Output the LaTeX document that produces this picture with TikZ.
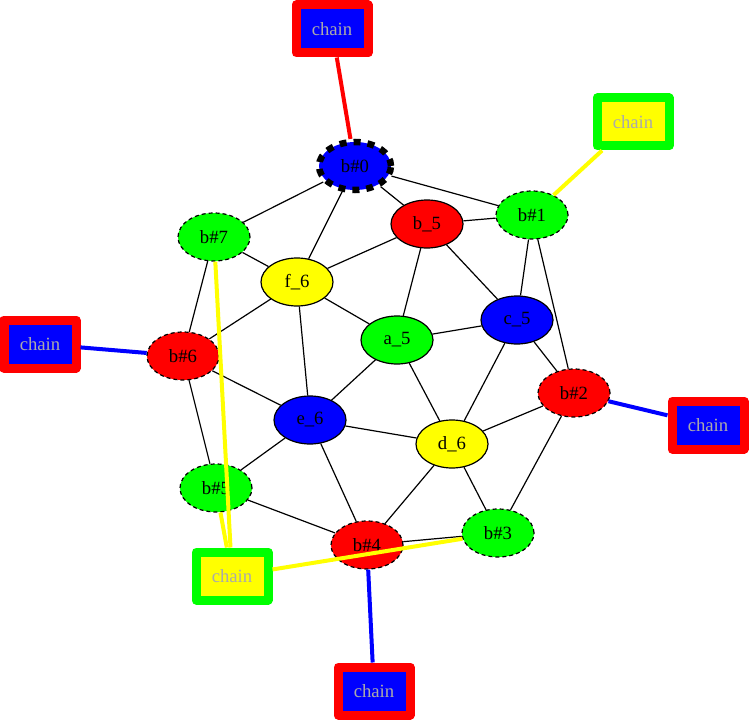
\documentclass[tikz,border=0pt]{standalone}
\usepackage{fontspec}
\setmainfont{Liberation Serif}
\usetikzlibrary{shapes.geometric}
\definecolor{chaintext}{RGB}{170,170,170}
\definecolor{vgreen}{RGB}{0,255,0}
\definecolor{vyellow}{RGB}{255,255,0}
\begin{document}
\begin{tikzpicture}[x=1pt,y=-1pt,
    every node/.style={font=\fontsize{18.7}{22}\selectfont},
    vtx/.style={ellipse,draw,line width=1.2pt,minimum width=72pt,minimum height=48pt,inner sep=0pt},
    bnd/.style={vtx,dash pattern=on 4pt off 3pt},
    chn/.style={rectangle,draw=#1,line width=9pt,line join=round,minimum width=72pt,minimum height=48pt,inner sep=0pt,text=chaintext},
    link/.style={line width=1.2pt},
    tie/.style={draw=#1,line width=4pt}]
    \useasboundingbox (0,0) rectangle (751,722);
    % inner vertices
    \node[vtx,fill=red] (b5) at (427, 224) {b\_5};
    \node[vtx,fill=vyellow] (f6) at (297, 282) {f\_6};
    \node[vtx,fill=vgreen] (a5) at (397, 340) {a\_5};
    \node[vtx,fill=blue] (c5) at (517, 320) {c\_5};
    \node[vtx,fill=blue] (e6) at (310, 420) {e\_6};
    \node[vtx,fill=vyellow] (d6) at (452, 444) {d\_6};
    % boundary vertices
    \node[vtx,fill=blue,line width=6.5pt,dash pattern=on 7pt off 7pt] (b0) at (355, 166) {b\#0};
    \node[bnd,fill=vgreen] (b1) at (532, 215) {b\#1};
    \node[bnd,fill=red] (b2) at (574, 393) {b\#2};
    \node[bnd,fill=vgreen] (b3) at (498, 533) {b\#3};
    \node[bnd,fill=red] (b4) at (367, 545) {b\#4};
    \node[bnd,fill=vgreen] (b5b) at (216, 488) {b\#5};
    \node[bnd,fill=red] (b6) at (183, 356) {b\#6};
    \node[bnd,fill=vgreen] (b7) at (214, 237) {b\#7};
    % chains
    \node[chn=red,fill=blue] (ch0) at (332, 29) {chain};
    \node[chn=vgreen,fill=vyellow] (ch1) at (633, 122) {chain};
    \node[chn=red,fill=blue] (ch6) at (40, 344) {chain};
    \node[chn=red,fill=blue] (ch2) at (708, 425) {chain};
    \node[chn=vgreen,fill=vyellow] (ch5) at (232, 576) {chain};
    \node[chn=red,fill=blue] (ch4) at (374, 691) {chain};
    % edges
    \draw[link] (b0) -- (b7);
    \draw[link] (b0) -- (f6);
    \draw[link] (b0) -- (b5);
    \draw[link] (b0) -- (b1);
    \draw[link] (b5) -- (b1);
    \draw[link] (b5) -- (f6);
    \draw[link] (b5) -- (a5);
    \draw[link] (b5) -- (c5);
    \draw[link] (b1) -- (c5);
    \draw[link] (b1) -- (b2);
    \draw[link] (b7) -- (f6);
    \draw[link] (b7) -- (b6);
    \draw[link] (f6) -- (b6);
    \draw[link] (f6) -- (a5);
    \draw[link] (f6) -- (e6);
    \draw[link] (a5) -- (c5);
    \draw[link] (a5) -- (e6);
    \draw[link] (a5) -- (d6);
    \draw[link] (c5) -- (b2);
    \draw[link] (c5) -- (d6);
    \draw[link] (b6) -- (e6);
    \draw[link] (b6) -- (b5b);
    \draw[link] (b2) -- (d6);
    \draw[link] (b2) -- (b3);
    \draw[link] (e6) -- (d6);
    \draw[link] (e6) -- (b5b);
    \draw[link] (e6) -- (b4);
    \draw[link] (d6) -- (b4);
    \draw[link] (d6) -- (b3);
    \draw[link] (b5b) -- (b4);
    \draw[link] (b4) -- (b3);
    % chain ties
    \draw[tie=red] (ch0) -- (b0);
    \draw[tie=vyellow] (ch1) -- (b1);
    \draw[tie=blue] (ch6) -- (b6);
    \draw[tie=blue] (ch2) -- (b2);
    \draw[tie=blue] (ch4) -- (b4);
    \draw[tie=vyellow] (ch5) -- (b7);
    \draw[tie=vyellow] (ch5) -- (b5b);
    \draw[tie=vyellow] (ch5) -- (b3);
\end{tikzpicture}
\end{document}
